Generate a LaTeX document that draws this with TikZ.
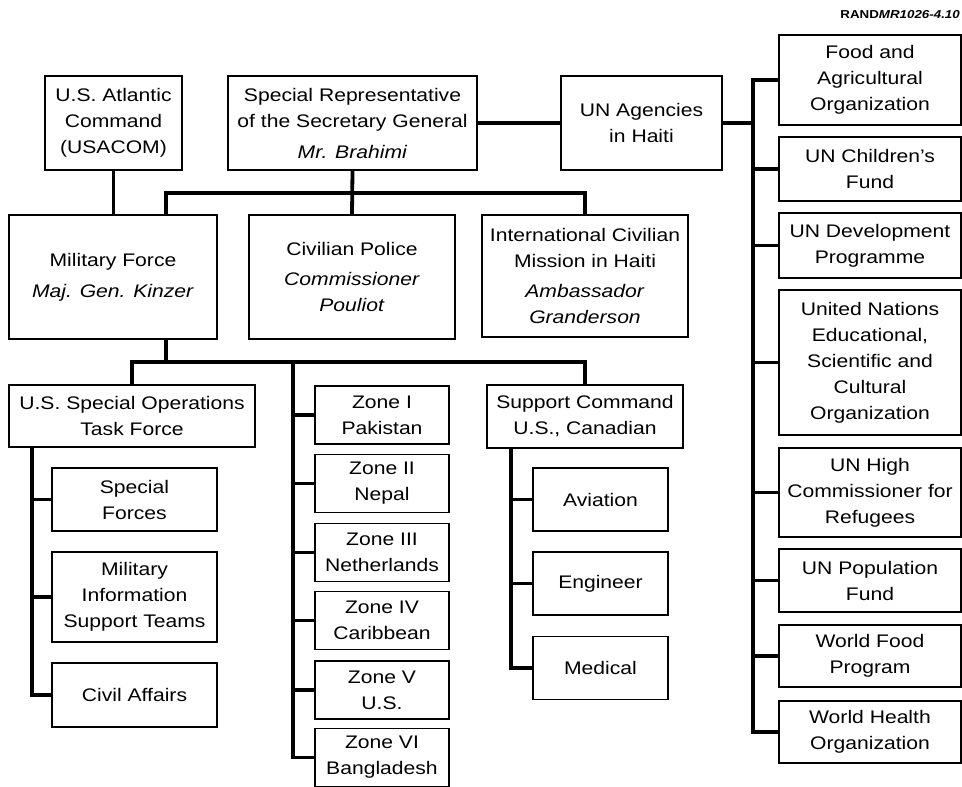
\documentclass[tikz,border=0pt]{standalone}
\usepackage{fontspec}
\setmainfont{Liberation Sans}[FakeStretch=1.16]
\begin{document}
\begin{tikzpicture}[x=1pt,y=-1pt,font=\fontsize{18.2}{26}\selectfont,
  unit/.style={draw, line width=1.6pt, inner sep=0pt, align=center},
  link/.style={line width=3.8pt, line join=miter}]
  \useasboundingbox (0,0) rectangle (962,787);
  % top row
  \node[unit, minimum width=137, minimum height=94] (usacom) at (113.5,123) {U.S. Atlantic\\Command\\(USACOM)};
  \node[unit, minimum width=249, minimum height=94] (srsg) at (352.5,123) {Special Representative\\of the Secretary General\\[5pt]\textit{Mr. Brahimi}};
  \node[unit, minimum width=161, minimum height=94] (unag) at (641.5,123) {UN Agencies\\in Haiti};
  % second row
  \node[unit, minimum width=208, minimum height=124] (milf) at (113,277) {Military Force\\[5pt]\textit{Maj. Gen. Kinzer}};
  \node[unit, minimum width=206, minimum height=124] (civpol) at (352,277) {Civilian Police\\[4pt]\textit{Commissioner}\\\textit{Pouliot}};
  \node[unit, minimum width=206, minimum height=122] (micivih) at (585,276) {International Civilian\\Mission in Haiti\\[4pt]\textit{Ambassador}\\\textit{Granderson}};
  % UN agencies column
  \node[unit, minimum width=182, minimum height=90] (fao) at (870,80) {Food and\\Agricultural\\Organization};
  \node[unit, minimum width=182, minimum height=64] (unicef) at (870,169) {UN Children's\\Fund};
  \node[unit, minimum width=182, minimum height=65] (undp) at (870,245.5) {UN Development\\Programme};
  \node[unit, minimum width=182, minimum height=145] (unesco) at (870,362.5) {United Nations\\Educational,\\Scientific and\\Cultural\\Organization};
  \node[unit, minimum width=182, minimum height=89] (unhcr) at (870,492.5) {UN High\\Commissioner for\\Refugees};
  \node[unit, minimum width=182, minimum height=63] (unfpa) at (870,580.5) {UN Population\\Fund};
  \node[unit, minimum width=182, minimum height=62] (wfp) at (870,656) {World Food\\Program};
  \node[unit, minimum width=182, minimum height=62] (who) at (870,732) {World Health\\Organization};
  % military force units
  \node[unit, minimum width=246, minimum height=62] (sotf) at (132,416) {U.S. Special Operations\\Task Force};
  \node[unit, minimum width=165, minimum height=63] (sf) at (134.5,499.5) {Special\\Forces};
  \node[unit, minimum width=165, minimum height=90] (mist) at (134.5,597) {Military\\Information\\Support Teams};
  \node[unit, minimum width=165, minimum height=64] (ca) at (134.5,695) {Civil Affairs};
  \foreach \name/\txt/\y in {z1/{Zone I\\Pakistan}/415, z2/{Zone II\\Nepal}/483.5,
      z3/{Zone III\\Netherlands}/552.5, z4/{Zone IV\\Caribbean}/620.5,
      z5/{Zone V\\U.S.}/690, z6/{Zone VI\\Bangladesh}/757.5}
    \node[unit, minimum width=134, minimum height=58] (\name) at (382,\y) {\txt};
  \node[unit, minimum width=196, minimum height=63] (supcmd) at (585,416.5) {Support Command\\U.S., Canadian};
  \node[unit, minimum width=135, minimum height=63] (aviation) at (600.5,499.5) {Aviation};
  \node[unit, minimum width=135, minimum height=63] (engineer) at (600.5,583.5) {Engineer};
  \node[unit, minimum width=135, minimum height=63] (medical) at (600.5,668) {Medical};
  % figure tag
  \node[anchor=base east, inner sep=0pt, font=\fontsize{11.5}{12}\selectfont\bfseries] (tag) at (960,18) {RAND\textit{MR1026-4.10}};
  % bus and spine points
  \coordinate (topbus) at (166,193);
  \coordinate (lowbus) at (166,362);
  \coordinate (unspine) at (753,78);
  \coordinate (zspine) at (293,362);
  \coordinate (sspine) at (32,447);
  \coordinate (cspine) at (511,448);
  % connectors
  \draw[link] (usacom.south) -- (usacom.south |- milf.north);
  \draw[link] (srsg.south) -- (civpol.north);
  \draw[link] (topbus |- milf.north) -- (topbus) -| (micivih.north);
  \draw[link] (srsg.east) -- (unag.west);
  \draw[link] (unag.east) -- (unag.east -| unspine);
  \draw[link] (fao.west) -| (unspine) |- (who.west);
  \foreach \n in {unicef,undp,unesco,unhcr,unfpa,wfp}
    \draw[link] (\n.west -| unspine) -- (\n.west);
  \draw[link] (milf.south -| lowbus) -- (lowbus);
  \draw[link] (sotf.north) |- (lowbus) -| (supcmd.north);
  \draw[link] (zspine) |- (z6.west);
  \foreach \n in {z1,z2,z3,z4,z5}
    \draw[link] (\n.west -| zspine) -- (\n.west);
  \draw[link] (sspine) |- (ca.west);
  \draw[link] (sf.west -| sspine) -- (sf.west);
  \draw[link] (mist.west -| sspine) -- (mist.west);
  \draw[link] (cspine) |- (medical.west);
  \draw[link] (aviation.west -| cspine) -- (aviation.west);
  \draw[link] (engineer.west -| cspine) -- (engineer.west);
\end{tikzpicture}
\end{document}
